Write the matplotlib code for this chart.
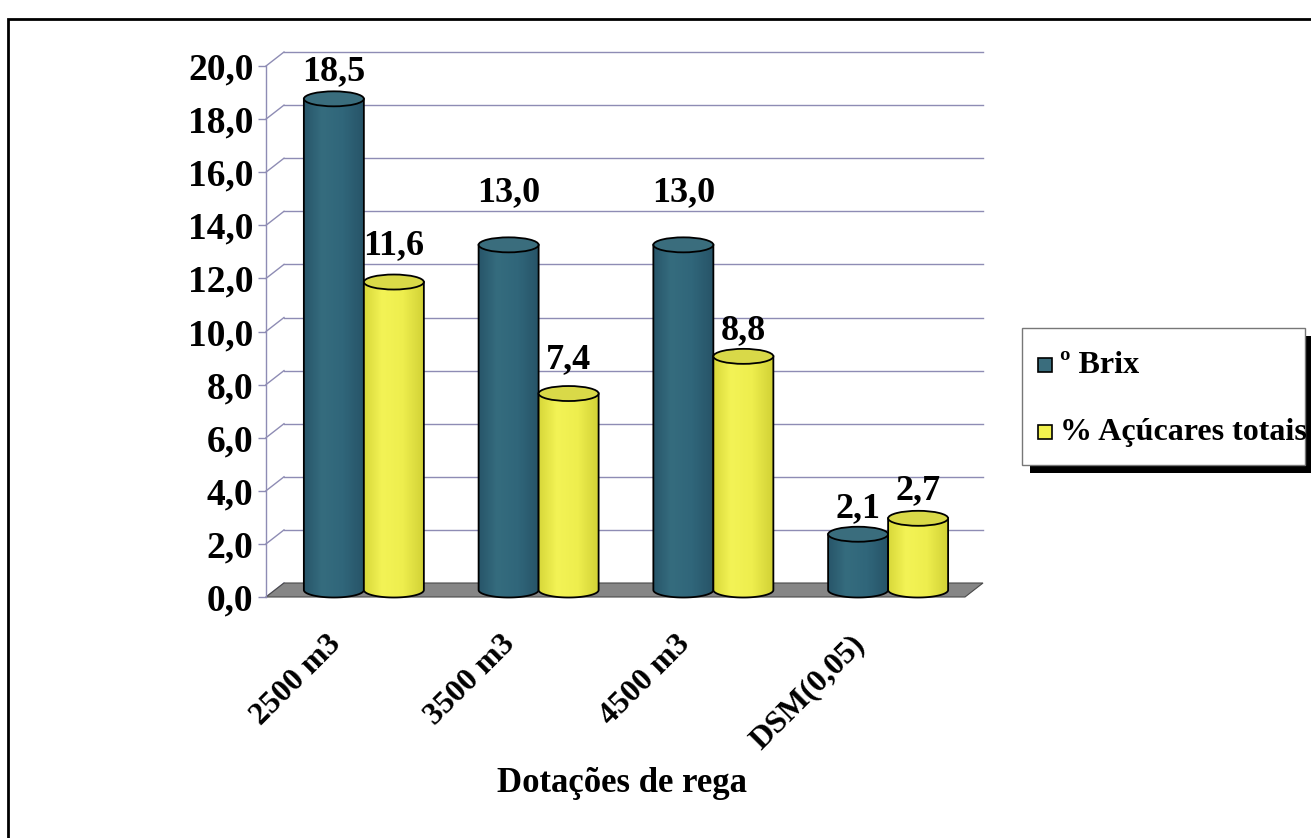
import numpy as np
import matplotlib
matplotlib.use("Agg")
import matplotlib.pyplot as plt
from matplotlib.patches import Polygon, Ellipse, Rectangle

# ---- data -------------------------------------------------------------
categories = ["2500 m3", "3500 m3", "4500 m3", "DSM(0,05)"]
brix = [18.5, 13.0, 13.0, 2.1]
acucares = [11.6, 7.4, 8.8, 2.7]
series_names = ["º Brix", "% Açúcares totais"]
y_ticks = [0, 2, 4, 6, 8, 10, 12, 14, 16, 18, 20]

# ---- style ------------------------------------------------------------
W, H = 1311, 838
plt.rcParams["font.family"] = ["Liberation Serif", "DejaVu Serif"]
plt.rcParams["font.weight"] = "bold"

teal_body = ["#28566a", "#356c7e", "#30667a", "#275468"]
teal_top = "#3a6d7d"
yellow_body = ["#d8d83a", "#f3f356", "#eeee4e", "#d2d236"]
yellow_top = "#d9d948"
grid_col = "#8e8cb4"
floor_col = "#868686"

fig = plt.figure(figsize=(W / 100, H / 100), dpi=100)
fig.patch.set_facecolor("white")

# front plane of the 3D box in figure pixels
x0_px, x1_px = 266, 965
y0_px, y20_px = 597, 66
ax = fig.add_axes([x0_px / W, 1 - y0_px / H, (x1_px - x0_px) / W, (y0_px - y20_px) / H])
ax.set_xlim(0, 4)
ax.set_ylim(0, 20)
ax.set_facecolor("none")

# depth of the box (back wall offset) in data units
px_x = 4 / (x1_px - x0_px)
px_y = 20 / (y0_px - y20_px)
dx, dy = 18 * px_x, 14 * px_y
n = len(categories)

# side wall diagonals and back wall gridlines
for v in y_ticks:
    ax.plot([0, dx], [v, v + dy], color=grid_col, lw=1.0, clip_on=False, zorder=1)
    if v > 0:
        ax.plot([dx, n + dx], [v + dy, v + dy], color=grid_col, lw=1.0,
                clip_on=False, zorder=1)

# floor
floor = Polygon([(0, 0), (n, 0), (n + dx, dy), (dx, dy)], closed=True,
                facecolor=floor_col, edgecolor="#4a4a4a", lw=0.8,
                clip_on=False, zorder=2)
ax.add_patch(floor)

# cylinders
bar_w = 60 * px_x
a = bar_w / 2
b = 7.5 * px_y
ox, oy = 0.06, dy / 2


def cylinder(cx, value, body_cols, top_col, z):
    t = np.linspace(np.pi, 2 * np.pi, 60)
    bottom = np.column_stack([cx + a * np.cos(t), oy + b * np.sin(t)])
    pts = np.vstack([[cx - a, value + oy], bottom, [cx + a, value + oy]])
    body = Polygon(pts, closed=True, facecolor="none", edgecolor="black",
                   lw=1.3, clip_on=False, zorder=z + 0.2)
    ax.add_patch(body)
    grad = matplotlib.colors.LinearSegmentedColormap.from_list(
        "g", list(zip([0, 0.3, 0.65, 1], body_cols)))
    img = ax.imshow(np.linspace(0, 1, 64).reshape(1, -1), cmap=grad,
                    extent=[cx - a, cx + a, oy - b, value + oy], aspect="auto",
                    zorder=z, interpolation="bilinear")
    img.set_clip_path(body)
    top = Ellipse((cx, value + oy), 2 * a, 2 * b, facecolor=top_col,
                  edgecolor="black", lw=1.3, clip_on=False, zorder=z + 0.3)
    ax.add_patch(top)


for i in range(n):
    c_brix = i + 0.5 + ox - a
    c_acu = i + 0.5 + ox + a
    cylinder(c_brix, brix[i], teal_body, teal_top, 3 + i)
    cylinder(c_acu, acucares[i], yellow_body, yellow_top, 3.5 + i)

# value labels (lift above the value in pixels)
lift_brix = [34, 59, 59, 33]
lift_acu = [43, 41, 33, 35]
for i in range(n):
    for vals, lifts, sgn in ((brix, lift_brix, -1), (acucares, lift_acu, 1)):
        cx = i + 0.5 + ox + sgn * a
        ax.annotate(f"{vals[i]:.1f}".replace(".", ","), (cx, vals[i]),
                    xytext=(0, lifts[i] * 0.72), textcoords="offset points",
                    ha="center", va="center", fontsize=26, fontweight="bold",
                    annotation_clip=False, zorder=20)

# category labels, rotated
for i, cat in enumerate(categories):
    ax.annotate(cat, (i + 0.5, 0), xytext=(-17 * 0.72, -43 * 0.72),
                textcoords="offset points", rotation=45, rotation_mode="anchor",
                ha="right", va="center", fontsize=23, fontweight="bold",
                annotation_clip=False)

# axes
ax.set_yticks(y_ticks)
ax.set_yticklabels([f"{v:.1f}".replace(".", ",") for v in y_ticks])
ax.tick_params(axis="y", length=6, width=1, color=grid_col, pad=3, labelsize=27)
ax.set_xticks([])
for side in ("top", "right", "bottom"):
    ax.spines[side].set_visible(False)
ax.spines["left"].set_color(grid_col)
ax.spines["left"].set_linewidth(1.0)
for lbl in ax.get_yticklabels():
    lbl.set_fontweight("bold")

fig.text(622 / W, 1 - 783 / H, "Dotações de rega", ha="center", va="center",
         fontsize=25, fontweight="bold")

# legend box with drop shadow


def fx(p):
    return p / W


def fy(p):
    return 1 - p / H


fig.patches.append(Rectangle((fx(1030), fy(473)), fx(283), 137 / H,
                             transform=fig.transFigure, facecolor="black",
                             edgecolor="none", zorder=5))
fig.patches.append(Rectangle((fx(1022), fy(465)), fx(283), 137 / H,
                             transform=fig.transFigure, facecolor="white",
                             edgecolor="#777777", lw=1, zorder=6))
for name, col, yc in ((series_names[0], teal_top, 365),
                      (series_names[1], "#f2f24e", 432)):
    fig.patches.append(Rectangle((fx(1038), fy(yc + 7)), fx(14), 14 / H,
                                 transform=fig.transFigure, facecolor=col,
                                 edgecolor="black", lw=1.2, zorder=7))
    fig.text(fx(1060), fy(yc), name, ha="left", va="center", fontsize=23,
             fontweight="bold", zorder=8)

# outer frame
fig.patches.append(Rectangle((fx(8), fy(H + 20)), fx(W + 20), (H + 1) / H,
                             transform=fig.transFigure, facecolor="none",
                             edgecolor="black", lw=2, zorder=9))

fig.savefig("out.png", dpi=100)
